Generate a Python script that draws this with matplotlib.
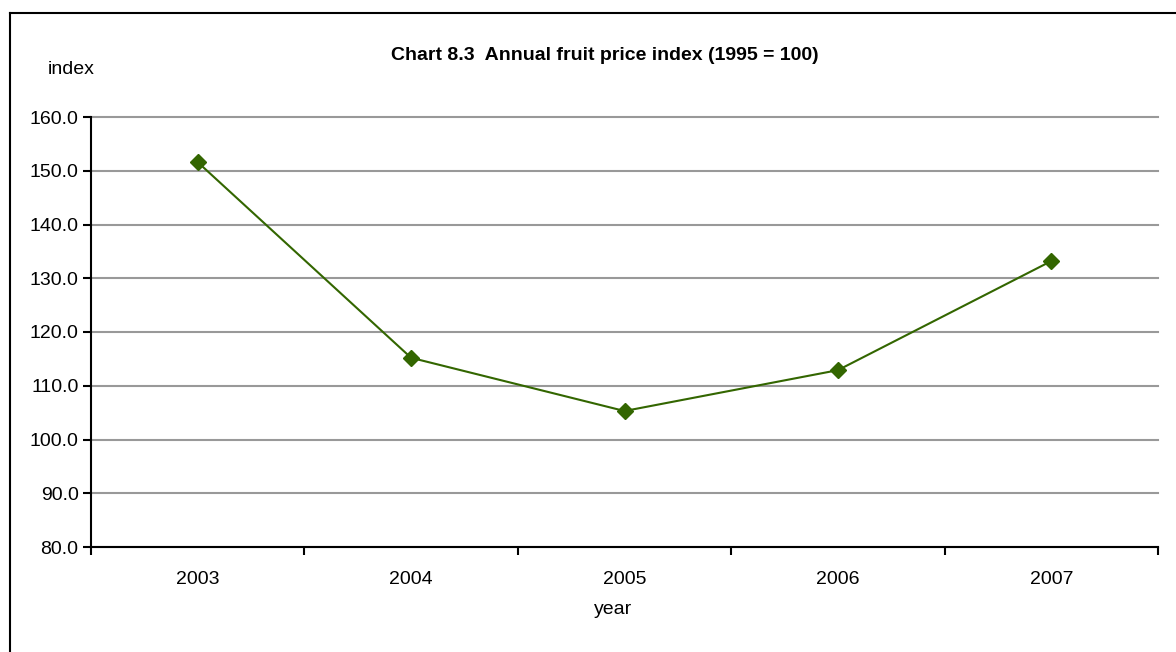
import matplotlib.pyplot as plt
from matplotlib.lines import Line2D

plt.rcParams['font.family'] = ['Liberation Sans', 'DejaVu Sans']

years = ['2003', '2004', '2005', '2006', '2007']
index_vals = [151.6, 115.2, 105.3, 112.9, 133.2]

fig = plt.figure(figsize=(11.76, 6.52), dpi=100)
ax = fig.add_axes([91 / 1176, 1 - 547 / 652, (1158 - 91) / 1176, (547 - 117) / 652])

x = range(len(years))
ax.plot(x, index_vals, color='#336600', lw=1.5, marker='D', markersize=8,
        markerfacecolor='#336600', markeredgecolor='#336600', zorder=3)

ax.set_xlim(-0.5, len(years) - 0.5)
ax.set_ylim(80, 160)
ax.set_yticks(range(80, 161, 10))
ax.set_yticklabels(['%.1f' % v for v in range(80, 161, 10)], fontsize=14)
ax.set_xticks([i - 0.5 for i in range(len(years) + 1)])
ax.set_xticklabels([])
ax.set_xticks(list(x), minor=True)
ax.set_xticklabels(years, minor=True, fontsize=14)
ax.tick_params(axis='x', which='minor', length=0, pad=17)
ax.tick_params(axis='x', which='major', length=6, width=1.5, direction='out')
ax.tick_params(axis='y', length=6, width=1.5, direction='out', pad=3)

ax.grid(axis='y', color='#999999', lw=1.5)
for gl in ax.get_ygridlines():
    gl.set_clip_on(False)
ax.set_axisbelow(True)
for s in ['top', 'right']:
    ax.spines[s].set_visible(False)
for s in ['left', 'bottom']:
    ax.spines[s].set_linewidth(1.5)

fig.text(605 / 1176, 1 - 55 / 652, 'Chart 8.3  Annual fruit price index (1995 = 100)',
         ha='center', va='center', fontsize=14, fontweight='bold')
fig.text(71 / 1176, 1 - 69 / 652, 'index', ha='center', va='center', fontsize=14)
fig.text(613 / 1176, 1 - 610 / 652, 'year', ha='center', va='center', fontsize=14)

# chart area border (left and top visible)
fig.add_artist(Line2D([10 / 1176, 10 / 1176], [0, 1 - 13 / 652], color='black', lw=1.5,
                      transform=fig.transFigure))
fig.add_artist(Line2D([10 / 1176, 1], [1 - 13 / 652, 1 - 13 / 652], color='black', lw=1.5,
                      transform=fig.transFigure))

fig.savefig('out.png', dpi=100)
